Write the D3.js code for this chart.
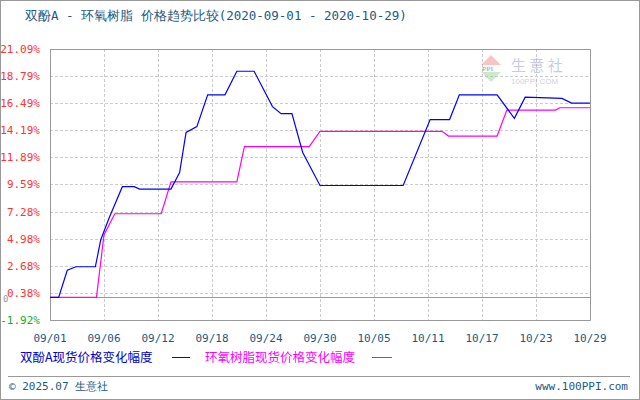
<!DOCTYPE html>
<html><head><meta charset="utf-8">
<script src="https://cdn.jsdelivr.net/npm/d3@7"></script>
<style>body{margin:0;background:#fff}</style></head>
<body><svg id="c" width="640" height="400"></svg>
<script>
const titleText = "双酚A - 环氧树脂 价格趋势比较(2020-09-01 - 2020-10-29)";
const xTickLabels = ["09/01","09/06","09/12","09/18","09/24","09/30","10/05","10/11","10/17","10/23","10/29"];
const yTickValues = [21.09,18.79,16.49,14.19,11.89,9.59,7.28,4.98,2.68,0.38,-1.92];
// x positions in day-index units (0..50), tick i at 5*i
const bisT = [0,0.8,1.6,2.4,4.2,4.7,5.5,6.7,7.8,8.3,11.2,12.0,12.6,13.6,14.6,16.2,17.3,18.9,20.6,21.4,22.4,23.4,25.0,32.7,35.2,37.0,37.9,41.4,43.0,44.0,47.4,48.3,50];
const bisV = [0,0,2.3,2.6,2.6,4.9,6.8,9.4,9.4,9.2,9.2,10.6,14.0,14.5,17.2,17.2,19.2,19.2,16.2,15.6,15.6,12.3,9.5,9.5,15.1,15.1,17.2,17.2,15.2,17.0,16.9,16.5,16.5];
const epoT = [0,4.3,5.0,6.0,10.3,11.2,17.3,18.0,24.0,25.0,36.3,36.9,41.4,42.3,46.8,47.2,50];
const epoV = [0,0,5.3,7.1,7.1,9.8,9.8,12.8,12.8,14.1,14.1,13.7,13.7,15.9,15.9,16.1,16.1];
const seriesNames = ["双酚A现货价格变化幅度","环氧树脂现货价格变化幅度"];

const svg = d3.select("#c");
const font = "'DejaVu Sans Mono', monospace";
const L=50,R=590,T=49,B=320;
svg.append("rect").attr("x",0.5).attr("y",0.5).attr("width",639).attr("height",399).attr("fill","#fff").attr("stroke","#999");
svg.append("text").attr("x",25).attr("y",20).text(titleText).attr("font-family",font).attr("font-size",12.5).attr("fill","#1b5a82");

const x = d3.scaleLinear().domain([0,50]).range([L,R]);
const y = d3.scaleLinear().domain([-1.92,21.09]).range([B,T]);
const g = svg.append("g");
yTickValues.forEach(v=>{ g.append("line").attr("x1",L).attr("x2",R).attr("y1",Math.round(y(v))+0.5).attr("y2",Math.round(y(v))+0.5).attr("stroke","#ccc").attr("stroke-dasharray","3,2");});
xTickLabels.forEach((t,i)=>{ g.append("line").attr("x1",Math.round(x(i*5))+0.5).attr("x2",Math.round(x(i*5))+0.5).attr("y1",T).attr("y2",B).attr("stroke","#ccc").attr("stroke-dasharray","3,2");});
// watermark
const wm = svg.append("g").attr("opacity",0.45);
wm.append("path").attr("d","M481,65 L491,55 L501,65 Z").attr("fill","#f08080");
wm.append("path").attr("d","M481,72 L501,72 L491,82 Z").attr("fill","#90d090");
wm.append("text").attr("x",482).attr("y",71).text("PPI").attr("font-size",7).attr("font-weight","bold").attr("fill","#557");
wm.append("text").attr("x",511).attr("y",71).text("生 意 社").attr("font-size",15).attr("font-family","'Noto Sans CJK SC'").attr("fill","#8890b8");
wm.append("text").attr("x",511).attr("y",84).text("100PPI.COM").attr("font-size",8).attr("font-family","Arial").attr("fill","#99a");
g.append("path").attr("d",`M${L+0.5},${T} V${B+0.5} H${R+0.5} V${T+0.5} H${L}`).attr("fill","none").attr("stroke","#999");
g.append("line").attr("x1",L).attr("x2",R).attr("y1",Math.round(y(0))+0.5).attr("y2",Math.round(y(0))+0.5).attr("stroke","#999");
yTickValues.forEach(v=>{ svg.append("text").attr("x",40).attr("y",y(v)+4).attr("text-anchor","end").text(v.toFixed(2)+"%")
  .attr("font-family",font).attr("font-size",11).attr("fill",v<0?"#2a2":"#f33");});
svg.append("text").attr("x",3).attr("y",y(0)+5).text("0").attr("font-family",font).attr("font-size",9).attr("fill","#999");
xTickLabels.forEach((t,i)=>{ svg.append("text").attr("x",x(i*5)).attr("y",342).attr("text-anchor","middle").text(t).attr("font-family",font).attr("font-size",11).attr("fill","#1b5a82");});
const line = d3.line().x(d=>x(d[0])).y(d=>y(d[1]));
g.append("path").datum(epoT.map((t,i)=>[t,epoV[i]])).attr("d",line).attr("fill","none").attr("stroke","#f0f").attr("stroke-width",1.2);
g.append("path").datum(bisT.map((t,i)=>[t,bisV[i]])).attr("d",line).attr("fill","none").attr("stroke","#00f").attr("stroke-width",1.2);
const lf = "'Noto Sans CJK SC', sans-serif";
svg.append("text").attr("x",20).attr("y",362).text(seriesNames[0]).attr("font-family",lf).attr("font-size",12.5).attr("fill","#00c");
svg.append("line").attr("x1",172).attr("x2",190).attr("y1",357.5).attr("y2",357.5).attr("stroke","#00f");
svg.append("text").attr("x",205).attr("y",362).text(seriesNames[1]).attr("font-family",lf).attr("font-size",12.5).attr("fill","#f0f");
svg.append("line").attr("x1",372).attr("x2",392).attr("y1",357.5).attr("y2",357.5).attr("stroke","#f0f");
svg.append("line").attr("x1",8).attr("x2",630).attr("y1",376.5).attr("y2",376.5).attr("stroke","#999");
svg.append("text").attr("x",9).attr("y",390).text("© 2025.07 生意社").attr("font-family",font).attr("font-size",11).attr("fill","#1b5a82");
svg.append("text").attr("x",628).attr("y",390).attr("text-anchor","end").text("www.100PPI.com").attr("font-family",font).attr("font-size",11).attr("fill","#1b5a82");
</script></body></html>
